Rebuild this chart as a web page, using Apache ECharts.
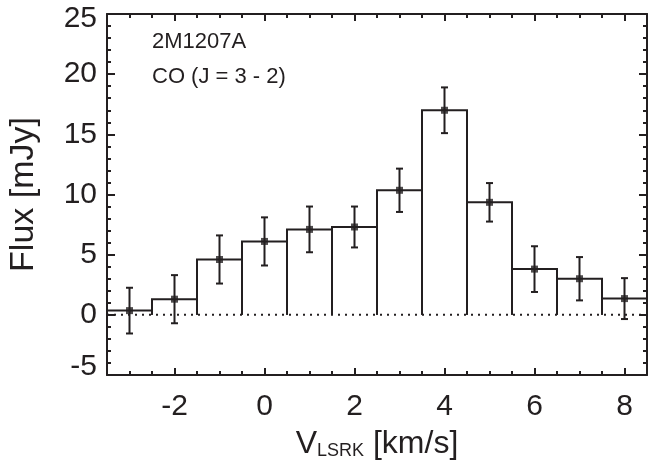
<!DOCTYPE html>
<html>
<head>
<meta charset="utf-8">
<script src="https://cdn.jsdelivr.net/npm/echarts@6/dist/echarts.min.js"></script>
<style>
html,body{margin:0;padding:0;background:#fff;}
#chart{width:648px;height:463px;}
</style>
</head>
<body>
<div id="chart"></div>
<script>
// ---- data ----
const velocities = [-3, -2, -1, 0, 1, 2, 3, 4, 5, 6, 7, 8];
const flux = [0.35, 1.3, 4.6, 6.1, 7.1, 7.3, 10.35, 17.0, 9.35, 3.8, 3.0, 1.35];
const fluxErr = [1.9, 2.0, 2.0, 2.0, 1.9, 1.7, 1.8, 1.9, 1.6, 1.9, 1.8, 1.7];
const xMajorTicks = [-2, 0, 2, 4, 6, 8];
const xRange = [-3.5, 8.5];
const yRange = [-5, 25];
const binWidth = 1;
const labelLines = ['2M1207A', 'CO (J = 3 - 2)'];

const INK = '#231f20';
const FONT = '"Liberation Sans", Arial, Helvetica, sans-serif';

const points = velocities.map((v, i) => [v, flux[i], fluxErr[i]]);

const gridBox = {left: 107, right: 1, top: 14, bottom: 88, containLabel: false, outerBoundsMode: 'none'};

const chart = echarts.init(document.getElementById('chart'), null, {renderer: 'canvas'});

const tickFont = {fontSize: 30, fontFamily: FONT, color: INK};

const option = {
  backgroundColor: '#ffffff',
  animation: false,
  grid: [Object.assign({}, gridBox), Object.assign({}, gridBox)],
  xAxis: [
    { // bottom, major ticks + labels
      type: 'value', gridIndex: 0, position: 'bottom', min: xRange[0], max: xRange[1],
      axisLine: {show: true, onZero: false, lineStyle: {color: INK, width: 2}},
      axisTick: {show: true, inside: true, length: 7, customValues: xMajorTicks, lineStyle: {color: INK, width: 2}},
      axisLabel: {show: true, customValues: xMajorTicks, margin: 17, color: INK, fontSize: 30, fontFamily: FONT},
      splitLine: {show: false},
      name: '{v|V}{s|LSRK}{v| [km/s]}',
      nameLocation: 'middle', nameGap: 53,
      nameTextStyle: {
        color: INK, fontFamily: FONT,
        rich: {
          v: {fontSize: 32, fontFamily: FONT, color: INK, lineHeight: 32},
          s: {fontSize: 18, fontFamily: FONT, color: INK, lineHeight: 12, verticalAlign: 'bottom'}
        }
      }
    },
    { // top, major ticks
      type: 'value', gridIndex: 0, position: 'top', min: xRange[0], max: xRange[1],
      axisLine: {show: true, onZero: false, lineStyle: {color: INK, width: 2}},
      axisTick: {show: true, inside: true, length: 7, customValues: xMajorTicks, lineStyle: {color: INK, width: 2}},
      axisLabel: {show: false},
      splitLine: {show: false}
    },
    { // bottom, minor ticks
      type: 'value', gridIndex: 1, position: 'bottom', min: xRange[0], max: xRange[1], interval: 0.5,
      axisLine: {show: false, onZero: false},
      axisTick: {show: true, inside: true, length: 4, lineStyle: {color: INK, width: 2}},
      axisLabel: {show: false},
      splitLine: {show: false}
    },
    { // top, minor ticks
      type: 'value', gridIndex: 1, position: 'top', min: xRange[0], max: xRange[1], interval: 0.5,
      axisLine: {show: false, onZero: false},
      axisTick: {show: true, inside: true, length: 4, lineStyle: {color: INK, width: 2}},
      axisLabel: {show: false},
      splitLine: {show: false}
    }
  ],
  yAxis: [
    {
      type: 'value', gridIndex: 0, position: 'left', min: yRange[0], max: yRange[1], interval: 5,
      axisLine: {show: true, onZero: false, lineStyle: {color: INK, width: 2}},
      axisTick: {show: true, inside: true, length: 8, lineStyle: {color: INK, width: 2}},
      minorTick: {show: true, splitNumber: 5, length: 4, lineStyle: {color: INK, width: 2}},
      axisLabel: {
        show: true, margin: 10, color: INK, fontSize: 30, fontFamily: FONT,
        formatter: function (v) {
          if (v === yRange[1]) return '{t|' + v + '}';
          if (v === yRange[0]) return '{b|' + v + '}';
          return '{n|' + v + '}';
        },
        rich: {
          n: Object.assign({}, tickFont),
          t: Object.assign({padding: [9, 0, 0, 0]}, tickFont),
          b: Object.assign({padding: [0, 0, 16, 0]}, tickFont)
        }
      },
      splitLine: {show: false}, minorSplitLine: {show: false},
      name: 'Flux [mJy]', nameLocation: 'middle', nameGap: 66,
      nameTextStyle: {color: INK, fontSize: 34, fontFamily: FONT}
    },
    {
      type: 'value', gridIndex: 0, position: 'right', min: yRange[0], max: yRange[1], interval: 5,
      axisLine: {show: true, onZero: false, lineStyle: {color: INK, width: 2}},
      axisTick: {show: true, inside: true, length: 8, lineStyle: {color: INK, width: 2}},
      minorTick: {show: true, splitNumber: 5, length: 4, lineStyle: {color: INK, width: 2}},
      axisLabel: {show: false},
      splitLine: {show: false}, minorSplitLine: {show: false}
    },
    {
      type: 'value', gridIndex: 1, min: yRange[0], max: yRange[1], show: false
    }
  ],
  graphic: [
    {type: 'text', left: 152, top: 31, style: {text: labelLines[0], fill: INK, font: '22px ' + FONT}},
    {type: 'text', left: 152, top: 66, style: {text: labelLines[1], fill: INK, font: '22px ' + FONT}}
  ],
  series: [
    { // zero reference line
      type: 'line', xAxisIndex: 0, yAxisIndex: 0,
      data: [[xRange[0], 0], [xRange[1], 0]],
      symbol: 'none', silent: true,
      lineStyle: {color: INK, width: 2, type: [2, 5]}
    },
    { // histogram outline
      type: 'custom', xAxisIndex: 0, yAxisIndex: 0,
      data: points,
      renderItem: function (params, api) {
        const x = api.value(0), y = api.value(1);
        const h = binWidth / 2;
        const pts = [api.coord([x - h, 0]), api.coord([x - h, y]), api.coord([x + h, y]), api.coord([x + h, 0])];
        return {type: 'polyline', shape: {points: pts}, style: {stroke: INK, lineWidth: 2, fill: null}};
      },
      silent: true
    },
    { // error bars
      type: 'custom', xAxisIndex: 0, yAxisIndex: 0,
      data: points,
      renderItem: function (params, api) {
        const x = api.value(0), y = api.value(1), e = api.value(2);
        const top = api.coord([x, y + e]);
        const bot = api.coord([x, y - e]);
        const cap = 3.5;
        return {
          type: 'group',
          children: [
            {type: 'line', shape: {x1: top[0], y1: top[1], x2: bot[0], y2: bot[1]}, style: {stroke: INK, lineWidth: 2}},
            {type: 'line', shape: {x1: top[0] - cap, y1: top[1], x2: top[0] + cap, y2: top[1]}, style: {stroke: INK, lineWidth: 2}},
            {type: 'line', shape: {x1: bot[0] - cap, y1: bot[1], x2: bot[0] + cap, y2: bot[1]}, style: {stroke: INK, lineWidth: 2}}
          ]
        };
      },
      silent: true
    },
    { // data points
      type: 'scatter', xAxisIndex: 0, yAxisIndex: 0,
      data: points.map(p => [p[0], p[1]]),
      symbol: 'rect', symbolSize: 7,
      itemStyle: {color: INK}, silent: true, z: 5
    }
  ]
};
chart.setOption(option);
</script>
</body>
</html>
